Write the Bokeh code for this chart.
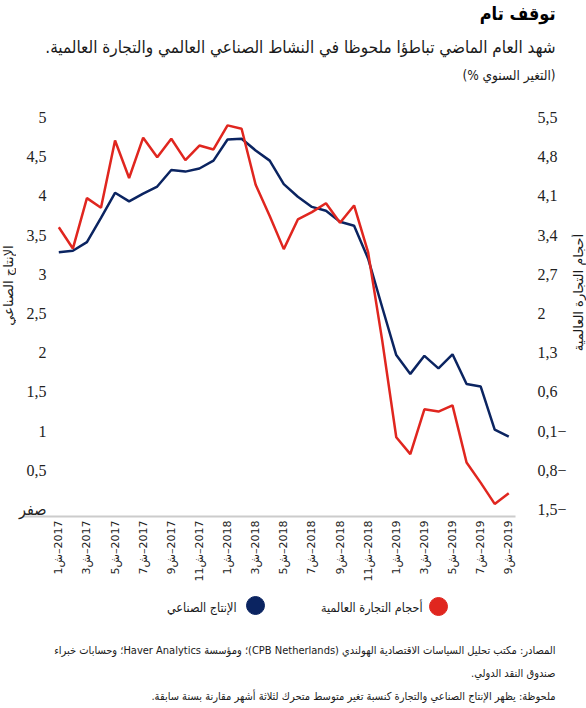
from math import pi

from bokeh.plotting import figure
from bokeh.layouts import column, row
from bokeh.models import Range1d, LinearAxis, FixedTicker, Label
from bokeh.embed import file_html
from bokeh.resources import INLINE

# Data (monthly, Jan 2017 - Sep 2019)
months = list(range(33))
industrial = [3.28, 3.30, 3.41, 3.72, 4.04, 3.93, 4.03, 4.12, 4.33, 4.31, 4.35, 4.45,
              4.72, 4.73, 4.58, 4.45, 4.15, 3.99, 3.86, 3.81, 3.67, 3.62, 3.20, 2.58,
              1.97, 1.73, 1.96, 1.80, 1.98, 1.60, 1.57, 1.02, 0.93]
trade = [3.54, 3.16, 4.06, 3.89, 5.09, 4.42, 5.14, 4.79, 5.12, 4.74, 5.00, 4.93,
         5.36, 5.30, 4.30, 3.74, 3.15, 3.68, 3.81, 3.97, 3.62, 3.93, 3.09, 1.52,
         -0.21, -0.51, 0.29, 0.25, 0.36, -0.66, -1.02, -1.40, -1.21]

x_ticks = [0, 2, 4, 6, 8, 10, 12, 14, 16, 18, 20, 22, 24, 26, 28, 30, 32]
x_labels = ["1ش\u200e–2017", "3ش\u200e–2017", "5ش\u200e–2017", "7ش\u200e–2017",
            "9ش\u200e–2017", "11ش\u200e–2017", "1ش\u200e–2018", "3ش\u200e–2018",
            "5ش\u200e–2018", "7ش\u200e–2018", "9ش\u200e–2018", "11ش\u200e–2018",
            "1ش\u200e–2019", "3ش\u200e–2019", "5ش\u200e–2019", "7ش\u200e–2019",
            "9ش\u200e–2019"]
left_ticks = [0, 0.5, 1, 1.5, 2, 2.5, 3, 3.5, 4, 4.5, 5]
left_labels = ["صفر", "0,5", "1", "1,5", "2", "2,5", "3", "3,5", "4", "4,5", "5"]
right_ticks = [-1.5, -0.8, -0.1, 0.6, 1.3, 2, 2.7, 3.4, 4.1, 4.8, 5.5]
right_labels = ["1,5−", "0,8−", "0,1−", "0,6", "1,3", "2", "2,7", "3,4", "4,1", "4,8", "5,5"]

series_names = ["الإنتاج الصناعي", "أحجام التجارة العالمية"]
title = "توقف تام"
subtitle = "شهد العام الماضي تباطؤا ملحوظا في النشاط الصناعي العالمي والتجارة العالمية."
units = "(التغير السنوي %)"
notes = ["المصادر: مكتب تحليل السياسات الاقتصادية الهولندي (CPB Netherlands)؛ ومؤسسة Haver Analytics؛ وحسابات خبراء",
         "صندوق النقد الدولي.",
         "ملحوظة: يظهر الإنتاج الصناعي والتجارة كنسبة تغير متوسط متحرك لثلاثة أشهر مقارنة بسنة سابقة."]

RED = "#e0261f"
BLUE = "#0b2461"
AR = "DejaVu Sans"
ARC = "DejaVu Sans Condensed, DejaVu Sans"
W = 586
MAIN_H = 484


def rtl(s):
    return "\u202b" + s + "\u202c"


def blank(w, h):
    # text-only strip: frame covers the whole canvas, 1 data unit = 1 px
    f = figure(width=w, height=h, output_backend="svg", toolbar_location=None,
               x_range=Range1d(0, w), y_range=Range1d(0, h),
               x_axis_type=None, y_axis_type=None, min_border=0, frame_align=False)
    f.outline_line_color = None
    f.grid.visible = False
    f.title.visible = False
    return f


def lab(f, x, y, text, size, font=ARC, bold=False, color="#1a1a1a", align="right", angle=0):
    f.add_layout(Label(x=x, y=y, text=rtl(text), text_font=font, text_font_size=size,
                       text_align=align, text_baseline="middle", text_color=color,
                       angle=angle, text_font_style="bold" if bold else "normal"))


# header
head = blank(W, 104)
lab(head, 555, 91, title, "18px", bold=True, color="#000000")
lab(head, 555, 58, subtitle, "17px")
lab(head, 555, 30, units, "13.5px")

# axis titles in narrow side strips
left_strip = blank(16, MAIN_H)
lab(left_strip, 8, 303, series_names[0], "13px", font=AR, align="center", angle=pi / 2)
right_strip = blank(15, MAIN_H)
lab(right_strip, 7, 296, series_names[1], "13px", font=AR, align="center", angle=pi / 2)

# main chart: left axis 0..5 maps onto right axis -1.5..5.5
y0, y1 = -0.089, 5.115
p = figure(width=W - 31, height=MAIN_H, output_backend="svg", toolbar_location=None,
           x_range=Range1d(-2.582, 32.48), y_range=Range1d(y0, y1),
           min_border_left=6, min_border_right=56, min_border_top=4, min_border_bottom=72,
           frame_align=False)
p.extra_y_ranges = {"trade": Range1d(1.4 * y0 - 1.5, 1.4 * y1 - 1.5)}
p.outline_line_color = None
p.grid.visible = False
p.title.visible = False

p.yaxis.ticker = FixedTicker(ticks=left_ticks)
p.yaxis.major_label_overrides = dict(zip(left_ticks, left_labels))
right = LinearAxis(y_range_name="trade", ticker=FixedTicker(ticks=right_ticks))
right.major_label_overrides = dict(zip(right_ticks, right_labels))
p.add_layout(right, "right")
for ax in (p.yaxis[0], right):
    ax.axis_line_color = None
    ax.major_tick_out = 0
    ax.major_tick_in = 0
    ax.minor_tick_out = 0
    ax.minor_tick_in = 0
    ax.major_label_text_font = "Liberation Serif, DejaVu Sans Condensed"
    ax.major_label_text_font_size = "16px"
    ax.major_label_text_color = "#222222"
# left tick labels sit over the start of the baseline, as in the original
p.yaxis[0].major_label_standoff = -24
right.major_label_standoff = 22

p.xaxis.ticker = FixedTicker(ticks=x_ticks)
p.xaxis.major_label_overrides = dict(zip(x_ticks, x_labels))
p.xaxis.major_label_orientation = pi / 2
p.xaxis.major_label_text_font = AR
p.xaxis.major_label_text_font_size = "11px"
p.xaxis.major_label_text_color = "#222222"
p.xaxis.major_label_standoff = 4
p.xaxis.axis_line_color = "#cccccc"
p.xaxis.axis_line_width = 2
p.xaxis.major_tick_out = 0
p.xaxis.major_tick_in = 0
p.xaxis.minor_tick_out = 0
p.xaxis.minor_tick_in = 0

p.line(months, industrial, line_color=BLUE, line_width=2.5)
p.line(months, trade, line_color=RED, line_width=2.5, y_range_name="trade")

# legend and notes
foot = blank(W, 120)
lab(foot, 422, 101, series_names[1], "12.5px")
lab(foot, 236, 101, series_names[0], "12.5px")
foot.scatter([438, 255], [102, 103], size=18, color=[RED, BLUE])  # legend swatches
lab(foot, 555, 58, notes[0], "11px")
lab(foot, 555, 35, notes[1], "11px")
lab(foot, 555, 12, notes[2], "11px")

layout = column(head, row(left_strip, p, right_strip, spacing=0), foot, spacing=0)
open("out.html", "w").write(file_html(layout, INLINE))
